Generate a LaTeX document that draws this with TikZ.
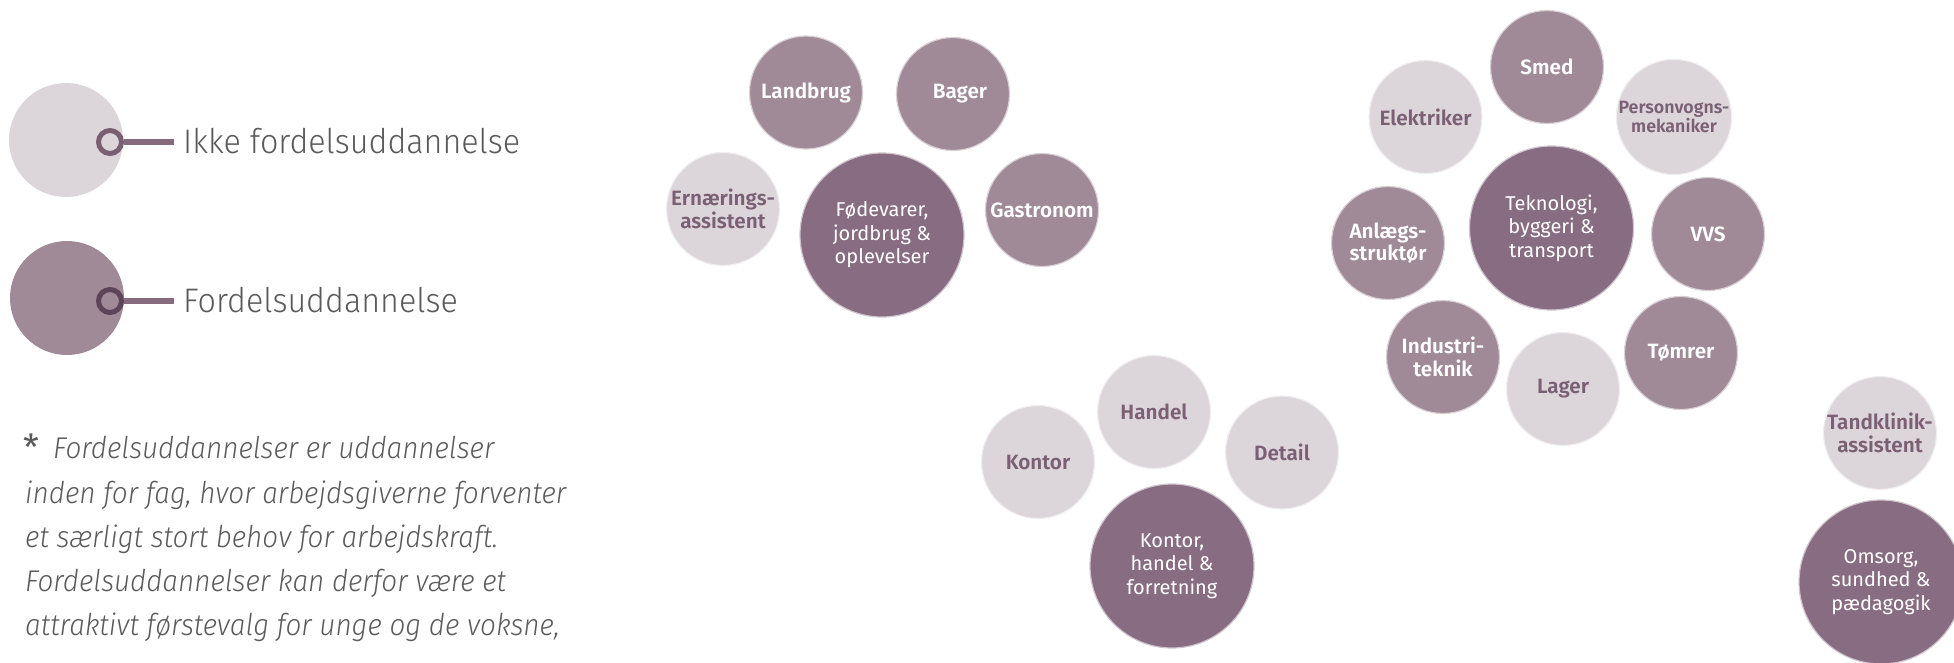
\documentclass[tikz,border=0pt]{standalone}
\usepackage{fontspec}
\setmainfont{Fira Sans}
\newfontfamily\lightf{Fira Sans Light}[FakeStretch=0.95]
\newfontfamily\regf{Fira Sans}
\newfontfamily\boldf{Fira Sans SemiBold}
\newfontfamily\italf{Fira Sans Light Italic}[FakeStretch=0.93]
\definecolor{lightc}{HTML}{DCD5DA}
\definecolor{midc}{HTML}{A08A98}
\definecolor{darkc}{HTML}{886C81}
\definecolor{labc}{HTML}{7B5F74}
\definecolor{gtext}{HTML}{5A5A5A}
\definecolor{ringa}{HTML}{7A5F73}
\definecolor{ringb}{HTML}{5E4458}
\definecolor{legline}{HTML}{866B7E}
\tikzset{
  bub/.style={circle, inner sep=0pt, minimum size=113, align=center, line width=1.2pt,
    font=\boldf\fontsize{20.7}{22.5}\selectfont},
  nofav/.style={bub, fill=lightc, draw=lightc!40!white, text=labc},
  fav/.style={bub, fill=midc, draw=midc!40!white, text=white},
  hub/.style={bub, minimum size=164, fill=darkc, draw=darkc!40!white, text=white,
    font=\regf\fontsize{20}{23.5}\selectfont},
  legcirc/.style={circle, inner sep=0pt, minimum size=114},
  ring/.style={circle, inner sep=0pt, minimum size=23, line width=5pt},
  legtext/.style={anchor=base west, inner sep=0pt, text=gtext, font=\lightf\fontsize{34}{40}\selectfont},
  legconn/.style={legline, line width=6pt, shorten >=9pt},
  fnline/.style={anchor=base west, inner sep=0pt, text=gtext, font=\italf\fontsize{30}{44}\selectfont},
}
\begin{document}
\begin{tikzpicture}[x=1pt, y=-1pt]
\useasboundingbox (0,0) rectangle (1954,662);
% legend
\node[legcirc, fill=lightc] (lc1) at (66,140) {};
\node[ring, draw=ringa] (r1) at (110,142) {};
\node[legtext] (t1) at (183,153) {Ikke fordelsuddannelse};
\draw[legconn] (r1.east) -- (r1.east -| t1.west);
\node[legcirc, fill=midc] (lc2) at (67,298) {};
\node[ring, draw=ringb] (r2) at (110,301) {};
\node[legtext] (t2) at (183,312) {Fordelsuddannelse};
\draw[legconn] (r2.east) -- (r2.east -| t2.west);
% footnote
\node[anchor=base west, inner sep=0pt, text=gtext, font=\regf\fontsize{36}{40}\selectfont] (ast) at (23,460) {*};
\node[fnline] (f1) at (53,458) {Fordelsuddannelser er uddannelser};
\node[fnline] (f2) at (25,503) {inden for fag, hvor arbejdsgiverne forventer};
\node[fnline] (f3) at (25,547) {et særligt stort behov for arbejdskraft.};
\node[fnline] (f4) at (25,591) {Fordelsuddannelser kan derfor være et};
\node[fnline] (f5) at (25,635) {attraktivt førstevalg for unge og de voksne,};
% food cluster
\node[fav] (lb) at (806,92.5) {Landbrug};
\node[fav] (bg) at (953,94) {\hspace*{14pt}Bager};
\node[nofav] (ern) at (723,209) {Ernærings-\\assistent};
\node[hub] (fod) at (882,235) {Fødevarer,\\jordbrug \&\\oplevelser};
\node[fav] (gas) at (1042,210) {Gastronom};
% technology cluster
\node[fav] (smed) at (1547,67) {Smed};
\node[nofav] (el) at (1425.5,117) {Elektriker};
\node[nofav, font=\boldf\fontsize{17.8}{19.5}\selectfont] (pv) at (1674,117) {Personvogns-\\mekaniker};
\node[hub] (tek) at (1551.5,228) {Teknologi,\\byggeri \&\\transport};
\node[fav] (anl) at (1388,243) {Anlægs-\\struktør};
\node[fav] (vvs) at (1708,234) {VVS};
\node[fav] (ind) at (1443,357) {Industri-\\teknik};
\node[nofav] (lag) at (1563,389) {Lager};
\node[fav] (tom) at (1681,353) {Tømrer};
% office cluster
\node[nofav] (kon) at (1038,462) {Kontor};
\node[nofav] (han) at (1154,412) {Handel};
\node[nofav] (det) at (1282,452.5) {Detail};
\node[hub] (khf) at (1172,566) {Kontor,\\handel \&\\forretning};
% care cluster
\node[nofav] (tand) at (1880,433) {Tandklinik-\\assistent};
\node[hub] (oms) at (1881,582) {Omsorg,\\sundhed \&\\pædagogik};
\end{tikzpicture}
\end{document}
